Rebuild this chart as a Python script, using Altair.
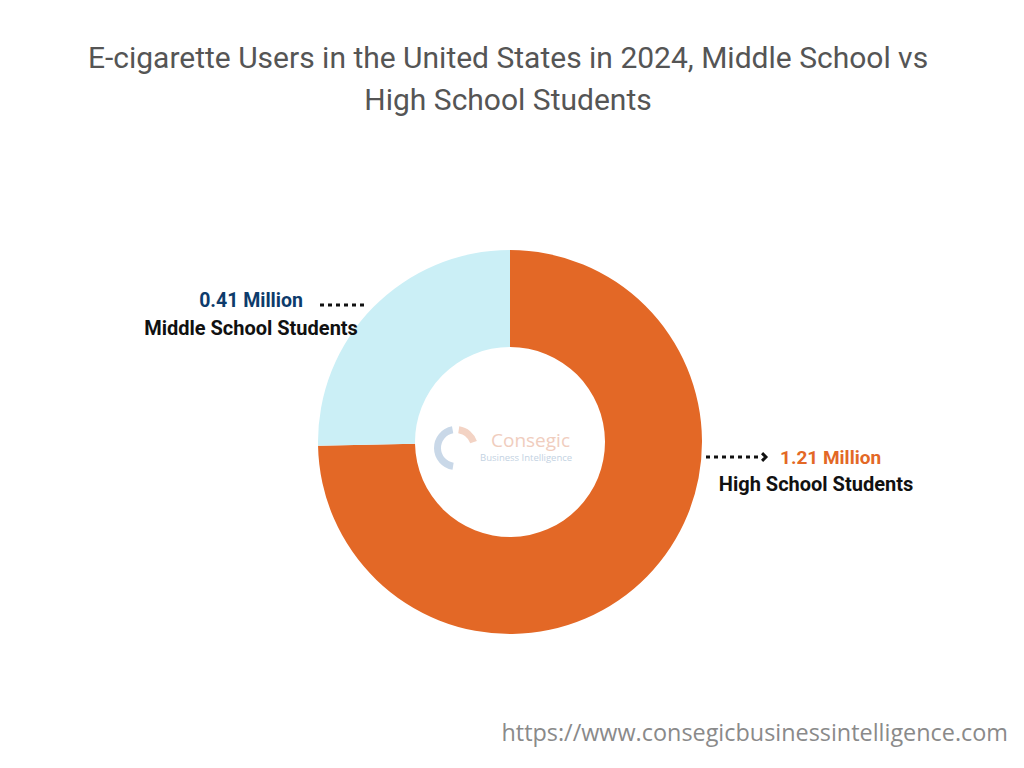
import altair as alt
import pandas as pd

categories = ["High School Students", "Middle School Students"]
values = [1.21, 0.41]
value_labels = ["1.21 Million", "0.41 Million"]
colors = ["#E36826", "#CBEFF6"]
title_lines = ["E-cigarette Users in the United States in 2024, Middle School vs",
               "High School Students"]
url_text = "https://www.consegicbusinessintelligence.com"

df = pd.DataFrame({"category": categories, "value": values, "label": value_labels,
                   "rank": [0, 1]})

CX, CY = 510, 442

base = alt.Chart(df)

donut = base.mark_arc(innerRadius=95, outerRadius=192).encode(
    theta=alt.Theta("value:Q", stack=True),
    color=alt.Color("category:N", scale=alt.Scale(domain=categories, range=colors), legend=None),
    order=alt.Order("rank:Q"),
    x=alt.value(CX), y=alt.value(CY),
)

# Watermark logo
logo_ring = alt.Chart(pd.DataFrame({"a": [0]})).mark_arc(
    innerRadius=15, outerRadius=22, theta=3.3, theta2=6.1, color="#C9D8E8"
).encode(x=alt.value(456), y=alt.value(448))
logo_ring2 = alt.Chart(pd.DataFrame({"a": [0]})).mark_arc(
    innerRadius=15, outerRadius=22, theta=0.15, theta2=1.25, color="#F3D3C4"
).encode(x=alt.value(456), y=alt.value(448))
logo_c = alt.Chart(pd.DataFrame({"t": ["Consegic"]})).mark_text(
    font="Open Sans", fontSize=19, color="#F0CDBE", align="left", baseline="alphabetic"
).encode(text="t:N", x=alt.value(491), y=alt.value(447))
logo_b = alt.Chart(pd.DataFrame({"t": ["Business Intelligence"]})).mark_text(
    font="Open Sans", fontSize=9.5, color="#C3D2E2", align="left", baseline="alphabetic"
).encode(text="t:N", x=alt.value(480), y=alt.value(461))

# Title
title1 = alt.Chart(pd.DataFrame({"t": [title_lines[0]]})).mark_text(
    font="Roboto", fontSize=30, color="#555555", align="center", baseline="alphabetic"
).encode(text="t:N", x=alt.value(508), y=alt.value(68))
title2 = alt.Chart(pd.DataFrame({"t": [title_lines[1]]})).mark_text(
    font="Roboto", fontSize=30, color="#555555", align="center", baseline="alphabetic"
).encode(text="t:N", x=alt.value(508), y=alt.value(110))

# Labels
mid_val = alt.Chart(df.iloc[[1]]).mark_text(
    font="Roboto", fontSize=19.5, fontWeight="bold", color="#0D3B6B", align="center", baseline="alphabetic"
).encode(text="label:N", x=alt.value(251), y=alt.value(307))
mid_cat = alt.Chart(df.iloc[[1]]).mark_text(
    font="Roboto", fontSize=20, fontWeight="bold", color="#111111", align="center", baseline="alphabetic"
).encode(text="category:N", x=alt.value(251), y=alt.value(335))
hi_val = alt.Chart(df.iloc[[0]]).mark_text(
    font="Roboto", fontSize=19, fontWeight="bold", color="#E36826", align="left", baseline="alphabetic"
).encode(text="label:N", x=alt.value(780), y=alt.value(464))
hi_cat = alt.Chart(df.iloc[[0]]).mark_text(
    font="Roboto", fontSize=20, fontWeight="bold", color="#111111", align="center", baseline="alphabetic"
).encode(text="category:N", x=alt.value(816), y=alt.value(491))

one = pd.DataFrame({"a": [0]})
dots_left = alt.Chart(one).mark_rule(strokeDash=[4, 4], strokeWidth=3, color="#111111").encode(
    x=alt.value(320), x2=alt.value(368), y=alt.value(305))
dots_right = alt.Chart(one).mark_rule(strokeDash=[4, 4], strokeWidth=3, color="#111111").encode(
    x=alt.value(706), x2=alt.value(762), y=alt.value(457))
arrow = alt.Chart(one).mark_point(
    shape="M-0.5,-1L0.5,0L-0.5,1", filled=False, strokeWidth=3, size=60, color="#111111", opacity=1
).encode(x=alt.value(764), y=alt.value(457))

url = alt.Chart(pd.DataFrame({"t": [url_text]})).mark_text(
    font="Open Sans", fontSize=23.4, color="#8A8A8A", align="right", baseline="alphabetic"
).encode(text="t:N", x=alt.value(1008), y=alt.value(741))

chart = alt.layer(
    donut, logo_ring, logo_ring2, logo_c, logo_b, title1, title2, mid_val, mid_cat, hi_val, hi_cat,
    dots_left, dots_right, arrow, url
).properties(
    width=1024, height=768, autosize=alt.AutoSizeParams(type="none"), padding=0,
    background="#FFFFFF"
).configure_view(stroke=None)

chart.save("out.html", embed_options={"renderer": "svg", "actions": False})
